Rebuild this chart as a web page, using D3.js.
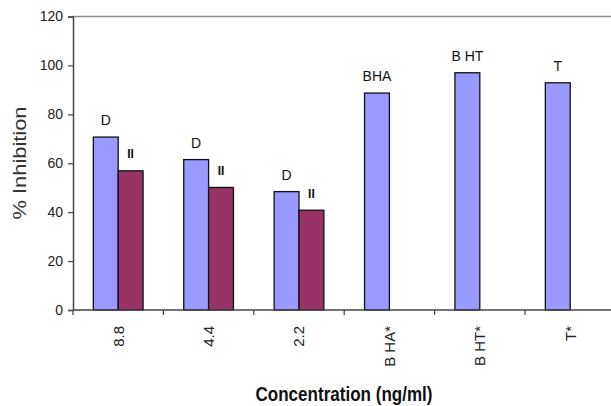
<!DOCTYPE html>
<html><head><meta charset="utf-8">
<script src="https://cdn.jsdelivr.net/npm/d3@7"></script>
<style>
html,body{margin:0;padding:0;background:#fff;}
svg{display:block;}
text{font-family:"Liberation Sans",Arial,sans-serif;}
</style></head>
<body><svg id="chart" width="611" height="406"></svg>
<script>
const categories = ["8.8","4.4","2.2","B HA*","B HT*","T*"];
const seriesNames = ["D","II"];
const valuesD  = [70.7, 61.5, 48.4, 88.7, 97.0, 92.9];
const valuesII = [56.9, 50.1, 40.8, null, null, null];
const labelsD  = ["D","D","D","BHA","B HT","T"];
const labelsII = ["II","II","II","","",""];
const yTicks = [0,20,40,60,80,100,120];
const colors = {D:"#9999FF", II:"#993366"};

const svg = d3.select("#chart");
const x0 = 73, x1 = 615.4, yTop = 16.5, yBot = 310;

const x = d3.scaleBand().domain(categories).range([x0, x1]).padding(0);
const bw = x.bandwidth();
const xi = d3.scaleBand().domain(seriesNames).range([bw*0.225, bw*0.775]).padding(0);
const y = d3.scaleLinear().domain([0,120]).range([yBot, yTop]);

// plot-area top border
svg.append("line").attr("x1", x0).attr("x2", 611).attr("y1", yTop).attr("y2", yTop)
  .attr("stroke", "#8a8a8a").attr("stroke-width", 1.5);

// bars
const rows = categories.map((c,i)=>({c, D:valuesD[i], II:valuesII[i], lD:labelsD[i], lII:labelsII[i]}));
const g = svg.append("g");
rows.forEach(r=>{
  seriesNames.forEach(s=>{
    if (r[s]==null) return;
    g.append("rect")
      .attr("x", x(r.c)+xi(s)).attr("width", xi.bandwidth())
      .attr("y", y(r[s])).attr("height", y(0)-y(r[s]))
      .attr("fill", colors[s]).attr("stroke", "#111").attr("stroke-width", 1.3);
    const lab = s==="D" ? r.lD : r.lII;
    if (lab) {
      g.append("text")
        .attr("x", x(r.c)+xi(s)+xi.bandwidth()/2)
        .attr("y", y(r[s]) - 17).attr("dy", "0.36em")
        .attr("text-anchor", "middle")
        .attr("font-size", s==="D" ? 14 : 12)
        .attr("font-weight", s==="D" ? "normal" : "bold")
        .attr("fill", "#111")
        .text(lab);
    }
  });
});

// y axis
const ya = svg.append("g").attr("transform", `translate(${x0},0)`)
  .call(d3.axisLeft(y).tickValues(yTicks).tickSize(5).tickPadding(5));
ya.select(".domain").attr("stroke", "#444").attr("stroke-width", 1.5);
ya.selectAll(".tick line").attr("stroke", "#444").attr("stroke-width", 1.2);
ya.selectAll(".tick text").attr("font-size", 14).attr("fill", "#222")
  .attr("font-family", '"Liberation Sans",Arial,sans-serif');

// x axis line + boundary ticks
const xa = svg.append("g").attr("transform", `translate(0,${yBot})`)
  .call(d3.axisBottom(x).tickSize(0).tickFormat(""));
xa.select(".domain").attr("stroke", "#444").attr("stroke-width", 1.5)
  .attr("d", `M${x0},0H611`);
const bounds = categories.map(c=>x(c)).concat([x1]);
svg.append("g").selectAll("line").data(bounds.filter(b=>b<611)).join("line")
  .attr("x1", d=>d).attr("x2", d=>d).attr("y1", yBot).attr("y2", yBot+5)
  .attr("stroke", "#444").attr("stroke-width", 1.2);

// x tick labels rotated
svg.append("g").selectAll("text").data(categories).join("text")
  .attr("transform", d=>`translate(${x(d)+bw/2},326) rotate(-90)`)
  .attr("text-anchor", "end").attr("dy", "0.36em")
  .attr("font-size", 15).attr("fill", "#222")
  .text(d=>d);

// axis titles
svg.append("text")
  .attr("transform", "translate(20,163) rotate(-90)")
  .attr("text-anchor", "middle").attr("dy", "0.36em")
  .attr("font-size", 18).attr("fill", "#333")
  .attr("textLength", 113).attr("lengthAdjust", "spacingAndGlyphs")
  .text("% Inhibition");

svg.append("text")
  .attr("x", 344).attr("y", 401)
  .attr("text-anchor", "middle")
  .attr("font-family", '"Liberation Sans Narrow","Arial Narrow","Liberation Sans",sans-serif')
  .attr("font-weight", "bold").attr("font-size", 20).attr("fill", "#111")
  .attr("textLength", 177).attr("lengthAdjust", "spacingAndGlyphs")
  .text("Concentration (ng/ml)");
</script></body></html>
